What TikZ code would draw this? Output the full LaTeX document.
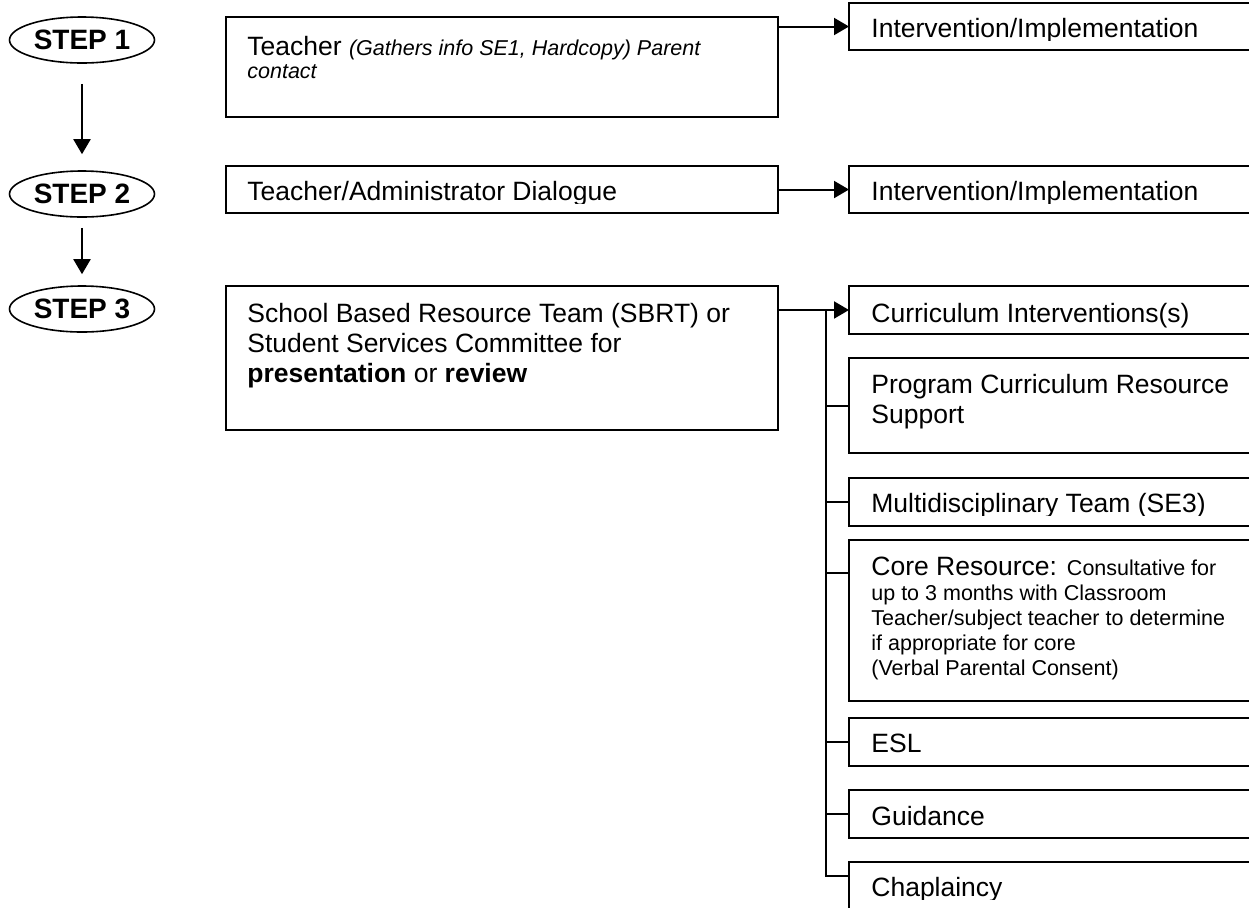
\documentclass[tikz,border=0pt]{standalone}
\usepackage{fontspec}
\setmainfont{Liberation Sans}
\usetikzlibrary{arrows.meta,shapes.geometric,calc}
\newcommand\txtL{\fontsize{13.25pt}{15pt}\selectfont}
\newcommand\txtS{\fontsize{10.75pt}{12.5pt}\selectfont}
\begin{document}
\begin{tikzpicture}[x=0.5pt,y=-0.5pt,
  box/.style 2 args={draw,line width=1pt,anchor=north west,inner sep=0pt,outer sep=0pt,minimum width=#1,minimum height=#2},
  stepel/.style={draw,ellipse,line width=0.8pt,minimum width=72.5pt,minimum height=23pt,inner sep=0pt,font=\fontsize{14pt}{16pt}\selectfont\bfseries},
  conn/.style={line width=1pt},
  arr/.style={conn,-{Triangle[length=7.5pt,width=8.5pt]}},
  txt/.style={anchor=base west,inner sep=0pt,font=\txtL},
  stxt/.style={anchor=base west,inner sep=0pt,font=\txtS}
]
\clip (0,0) rectangle (1249,907);
% step ellipses
\node[stepel] (s1) at (82,40) {STEP 1};
\node[stepel] (s2) at (82,194) {STEP 2};
\node[stepel] (s3) at (82,309) {STEP 3};
\draw[arr,shorten <=10pt,shorten >=8pt] (s1) -- (s2);
\draw[arr,shorten <=5pt,shorten >=5.5pt] (s2) -- (s3);
% left boxes
\node[box={276pt}{50pt}] (t1) at (226,17) {};
\node[box={276pt}{23.5pt}] (t2) at (226,166) {};
\node[box={276pt}{72pt}] (t3) at (226,286) {};
% right boxes
\node[box={215pt}{23.5pt}] (i1) at (849,3) {};
\node[box={215pt}{23.5pt}] (i2) at (849,166) {};
\node[box={215pt}{24pt}] (c1) at (849,286) {};
\node[box={215pt}{47.5pt}] (c2) at (849,358) {};
\node[box={215pt}{24pt}] (c3) at (849,478) {};
\node[box={215pt}{80.5pt}] (c4) at (849,540) {};
\node[box={215pt}{24pt}] (c5) at (849,718) {};
\node[box={215pt}{24pt}] (c6) at (849,790) {};
\node[box={215pt}{24pt}] (c7) at (849,862) {};
% connectors
\draw[arr] (t1.east |- i1.west) -- (i1.west);
\draw[arr] (t2.east) -- (i2.west);
\draw[arr] (t3.east |- c1.west) -- (c1.west);
\coordinate (tr) at ([xshift=-11.5pt]c1.west);
\coordinate (c4b) at ([yshift=-16.5pt]c4.north west);
\coordinate (c7b) at ([yshift=-7pt]c7.north west);
\draw[conn] (tr) |- (c7b);
\draw[conn] (tr |- c2.west) -- (c2.west);
\draw[conn] (tr |- c3.west) -- (c3.west);
\draw[conn] (tr |- c4b) -- (c4b);
\draw[conn] (tr |- c5.west) -- (c5.west);
\draw[conn] (tr |- c6.west) -- (c6.west);
% texts left
\node[txt] (x1) at (247,55) {Teacher {\txtS\itshape (Gathers info SE1, Hardcopy) Parent}};
\node[stxt,font=\txtS\itshape] (x2) at (247,78) {contact};
\begin{scope}
\clip (226,166) rectangle (778,203);
\node[txt] (x3) at (247,200) {Teacher/Administrator Dialogue};
\end{scope}
\node[txt] (x4) at (247,322) {School Based Resource Team (SBRT) or};
\node[txt] (x5) at (247,352) {Student Services Committee for};
\node[txt] (x6) at (247,382) {\textbf{presentation} or \textbf{review}};
% texts right
\begin{scope}
\clip (849,3) rectangle (1249,40);
\node[txt] (y1) at (871,37) {Intervention/Implementation};
\end{scope}
\begin{scope}
\clip (849,166) rectangle (1249,203);
\node[txt] (y2) at (871,200) {Intervention/Implementation};
\end{scope}
\node[txt] (y3) at (871,322) {Curriculum Interventions(s)};
\node[txt] (y4) at (871,393) {Program Curriculum Resource};
\node[txt] (y5) at (871,423) {Support};
\begin{scope}
\clip (849,478) rectangle (1249,515);
\node[txt] (y6) at (871,512) {Multidisciplinary Team (SE3)};
\end{scope}
\node[txt] (y7) at (871,575) {Core Resource:\hspace{5pt}{\txtS Consultative for}};
\node[stxt] (y8) at (871,600) {up to 3 months with Classroom};
\node[stxt] (y9) at (871,625) {Teacher/subject teacher to determine};
\node[stxt] (y10) at (871,650) {if appropriate for core};
\node[stxt] (y11) at (871,675) {(Verbal Parental Consent)};
\node[txt] (y12) at (871,752) {ESL};
\node[txt] (y13) at (871,825) {Guidance};
\begin{scope}
\clip (849,862) rectangle (1249,899);
\node[txt] (y14) at (871,896) {Chaplaincy};
\end{scope}
\end{tikzpicture}
\end{document}
